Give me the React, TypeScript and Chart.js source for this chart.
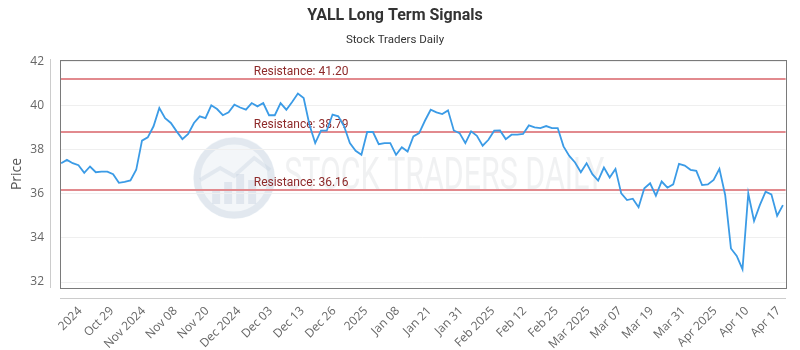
import React, { useEffect, useRef } from 'react';
import { Chart, registerables } from 'chart.js';

Chart.register(...registerables);

const titleText = 'YALL Long Term Signals';
const subtitleText = 'Stock Traders Daily';
const yAxisTitle = 'Price';
const watermarkText = 'STOCK TRADERS DAILY';

const prices = [
  37.38, 37.53, 37.38, 37.29, 36.94, 37.23, 36.97, 37.0, 37.0, 36.88,
  36.49, 36.53, 36.6, 37.08, 38.4, 38.55, 39.05, 39.88, 39.42, 39.2,
  38.82, 38.47, 38.7, 39.2, 39.5, 39.42, 40.0, 39.83, 39.55, 39.68,
  40.03, 39.9, 39.8, 40.1, 39.95, 40.1, 39.55, 39.55, 40.1, 39.8,
  40.15, 40.53, 40.33, 39.12, 38.29, 38.85, 38.85, 39.58, 39.5, 39.05,
  38.29, 37.94, 37.76, 38.79, 38.79, 38.24, 38.29, 38.29, 37.76, 38.1,
  37.91, 38.59, 38.74, 39.3, 39.8, 39.68, 39.6, 39.77, 38.86, 38.74,
  38.29, 38.82, 38.62, 38.17, 38.44, 38.85, 38.86, 38.47, 38.67, 38.67,
  38.7, 39.09, 39.0, 38.97, 39.06, 38.97, 38.97, 38.14, 37.71, 37.41,
  36.97, 37.38, 36.88, 36.59, 37.18, 36.73, 37.12, 36.01, 35.71, 35.77,
  35.39, 36.24, 36.47, 35.91, 36.55, 36.27, 36.42, 37.35, 37.27, 37.08,
  37.03, 36.39, 36.42, 36.62, 37.12, 35.94, 33.52, 33.18, 32.58, 36.01,
  34.76, 35.48, 36.09, 35.97, 35.0, 35.48,
];

const tickLabels = [
  '2024', 'Oct 29', 'Nov 2024', 'Nov 08', 'Nov 20', 'Dec 2024', 'Dec 03',
  'Dec 13', 'Dec 26', '2025', 'Jan 08', 'Jan 21', 'Jan 31', 'Feb 2025',
  'Feb 12', 'Feb 25', 'Mar 2025', 'Mar 07', 'Mar 19', 'Mar 31', 'Apr 2025',
  'Apr 10', 'Apr 17',
];
// first labelled index and spacing (in data points) between x labels
const tickStart = 3.8;
const tickStep = 5.5;

const resistanceLevels = [41.2, 38.79, 36.16];
const yTicks = [32, 34, 36, 38, 40, 42];

const decorPlugin = {
  id: 'decor',
  beforeDraw(chart: any) {
    const { ctx, chartArea } = chart;
    const { left, right, top, bottom } = chartArea;
    const w = right - left;
    const cy = (top + bottom) / 2 + 4;
    const cx = left + w * 0.24;
    ctx.save();
    ctx.beginPath();
    ctx.arc(cx, cy, 41, 0, Math.PI * 2);
    ctx.fillStyle = 'rgba(215,225,235,0.3)';
    ctx.fill();
    ctx.lineWidth = 7;
    ctx.strokeStyle = 'rgba(200,212,225,0.4)';
    ctx.beginPath();
    ctx.arc(cx, cy, 37, 0, Math.PI * 2);
    ctx.stroke();
    ctx.fillStyle = 'rgba(195,208,222,0.4)';
    const bars = [[-22, 14], [-10, 22], [2, 30], [14, 24]];
    bars.forEach(([dx, h]) => {
      ctx.fillRect(cx + dx, cy + 26 - h, 8, h);
    });
    ctx.beginPath();
    ctx.lineWidth = 4;
    ctx.moveTo(cx - 34, cy + 2);
    ctx.lineTo(cx - 14, cy - 10);
    ctx.lineTo(cx, cy - 2);
    ctx.lineTo(cx + 20, cy - 20);
    ctx.lineTo(cx + 36, cy - 8);
    ctx.stroke();
    ctx.fillStyle = 'rgba(195,200,205,0.25)';
    ctx.font = '44px Roboto';
    ctx.textBaseline = 'middle';
    ctx.textAlign = 'left';
    const tw = ctx.measureText(watermarkText).width;
    const target = 320;
    ctx.translate(cx + 50, cy);
    ctx.scale(target / tw, 1);
    ctx.fillText(watermarkText, 0, 0);
    ctx.restore();
  },
  beforeDatasetsDraw(chart: any) {
    const { ctx, chartArea, scales } = chart;
    const { left, right } = chartArea;
    ctx.save();
    resistanceLevels.forEach((lvl) => {
      const y = Math.round(scales.y.getPixelForValue(lvl));
      ctx.strokeStyle = '#e28a8e';
      ctx.lineWidth = 2;
      ctx.beginPath();
      ctx.moveTo(left, y);
      ctx.lineTo(right, y);
      ctx.stroke();
      ctx.fillStyle = '#8e2a2a';
      ctx.font = '12px Roboto';
      ctx.textAlign = 'left';
      ctx.textBaseline = 'alphabetic';
      ctx.fillText('Resistance: ' + lvl.toFixed(2), left + (right - left) * 0.267, y - 4);
    });
    ctx.restore();
  },
  afterDraw(chart: any) {
    const { ctx, chartArea } = chart;
    const { left, right, top, bottom } = chartArea;
    ctx.save();
    ctx.lineWidth = 1;
    ctx.strokeStyle = '#7a7a7a';
    ctx.strokeRect(Math.round(left) + 0.5, Math.round(top) + 0.5, Math.round(right - left), Math.round(bottom - top));
    ctx.strokeStyle = '#cccccc';
    ctx.beginPath();
    ctx.moveTo(Math.round(left) - 9.5, Math.round(top) - 1);
    ctx.lineTo(Math.round(left) - 9.5, Math.round(bottom));
    ctx.moveTo(Math.round(left), Math.round(bottom) + 10.5);
    ctx.lineTo(Math.round(right), Math.round(bottom) + 10.5);
    ctx.stroke();
    ctx.restore();
  },
};

export default function App() {
  const ref = useRef<HTMLCanvasElement | null>(null);
  useEffect(() => {
    if (!ref.current) return;
    const chart = new Chart(ref.current, {
      type: 'line',
      data: {
        datasets: [
          {
            data: prices.map((p, i) => ({ x: i, y: p })),
            borderColor: '#3b9be6',
            borderWidth: 1.8,
            pointRadius: 0,
            tension: 0,
            fill: false,
          },
        ],
      },
      options: {
        responsive: false,
        animation: false,
        layout: { padding: { left: 0, right: 10, top: 0, bottom: 0 } },
        plugins: {
          legend: { display: false },
          tooltip: { enabled: false },
          title: {
            display: true,
            text: titleText,
            color: '#333333',
            font: { family: 'Roboto', size: 16, weight: 'bold' },
            padding: { top: 6.5, bottom: 8 },
          },
          subtitle: {
            display: true,
            text: subtitleText,
            color: '#333333',
            font: { family: 'Roboto', size: 11.5 },
            padding: { top: 0, bottom: 12.5 },
          },
        },
        scales: {
          x: {
            type: 'linear',
            min: -0.2,
            max: 125.47,
            grid: { display: false },
            border: { display: false },
            afterBuildTicks: (s: any) => {
              s.ticks = tickLabels.map((_, k) => ({ value: tickStart + k * tickStep }));
            },
            afterFit: (s: any) => {
              s.height = 62;
            },
            ticks: {
              autoSkip: false,
              maxRotation: 45,
              minRotation: 45,
              color: '#666666',
              font: { family: 'Open Sans', size: 12 },
              padding: 8,
              labelOffset: -3,
              callback: (_v: any, i: number) => tickLabels[i],
            },
          },
          y: {
            min: 31.73,
            max: 42.05,
            afterBuildTicks: (s: any) => {
              s.ticks = yTicks.map((v) => ({ value: v }));
            },
            afterFit: (s: any) => {
              s.width = 60;
            },
            grid: { color: '#efefef', drawTicks: false },
            border: { display: false },
            ticks: {
              color: '#666666',
              font: { family: 'Open Sans', size: 12 },
              padding: 16,
            },
            title: {
              display: true,
              text: yAxisTitle,
              color: '#555555',
              font: { family: 'Open Sans', size: 14 },
              padding: { top: 9, bottom: 0 },
            },
          },
        },
      },
      plugins: [decorPlugin],
    } as any);
    return () => chart.destroy();
  }, []);
  return (
    <div style={{ position: 'absolute', left: 0, top: 0, width: 800, height: 350 }}>
      <canvas ref={ref} width={800} height={350} style={{ display: 'block', width: 800, height: 350 }} />
    </div>
  );
}
